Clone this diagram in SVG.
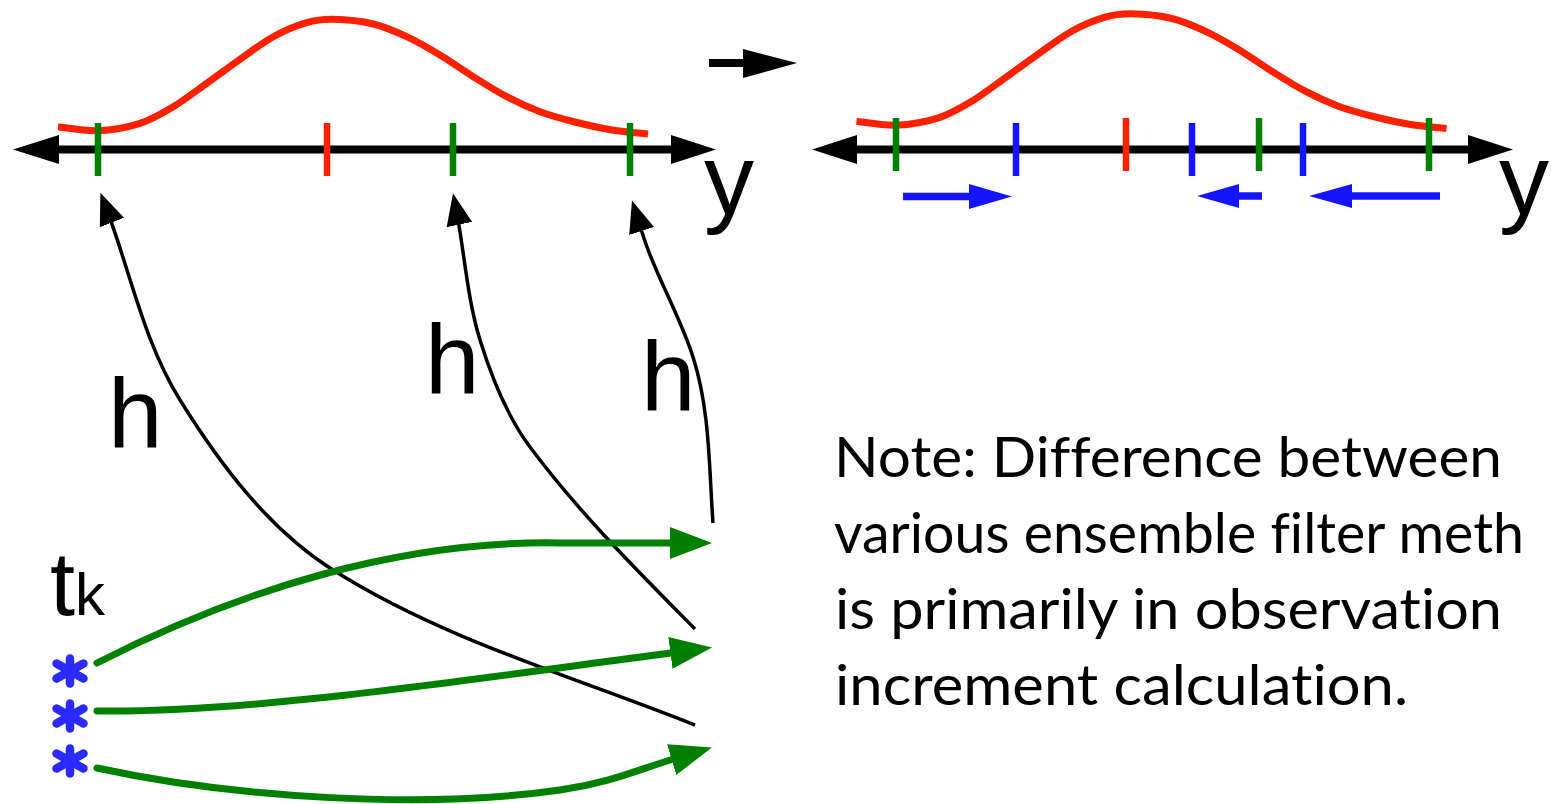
<svg xmlns="http://www.w3.org/2000/svg" width="1551" height="804" viewBox="0 0 1551 804">
<style>
.axis{stroke:#000;stroke-width:8;fill:none}
.head{fill:#000}
.tg{stroke:#008000;stroke-width:6.5}
.tr{stroke:#ff2000;stroke-width:6.5}
.tb{stroke:#1414ff;stroke-width:6.5}
.curve{fill:none;stroke:#ff2000;stroke-width:7}
.bl{stroke:#1414ff;stroke-width:7.5;fill:none}
.bh{fill:#1414ff}
.hc{fill:none;stroke:#000;stroke-width:3.5}
.gc{fill:none;stroke:#008000;stroke-width:7;stroke-linecap:round}
.lbl{font-family:"Liberation Sans",Arial,sans-serif;fill:#000}
.note{font-family:Lato,"Open Sans",sans-serif;font-size:57px;fill:#000;font-variant-ligatures:none}
.ast{stroke:#2a2aff;stroke-width:8.5;stroke-linecap:round;fill:none}
</style>
<defs>
<marker id="bhead" markerUnits="userSpaceOnUse" viewBox="0 -14 34 28" markerWidth="34" markerHeight="28" refX="22" refY="0" orient="auto"><path d="M0,-13 L32,0 L0,13 z" fill="#000"/></marker>
<marker id="ghead" markerUnits="userSpaceOnUse" viewBox="0 -17 44 34" markerWidth="44" markerHeight="34" refX="2" refY="0" orient="auto"><path d="M0,-16 L42,0 L0,16 z" fill="#008000"/></marker>
<path id="gauss" class="curve" d="M58,126.7 C64.67,127.37 84.33,131.27 98,130.7 C111.67,130.13 127.45,127.3 140,123.3 C152.55,119.3 162.18,113.37 173.3,106.7 C184.42,100.03 195.58,91.2 206.7,83.3 C217.82,75.4 228.9,67.07 240,59.3 C251.1,51.53 262.18,42.8 273.3,36.7 C284.42,30.6 296.7,25.6 306.7,22.7 C316.7,19.8 322.2,19.08 333.3,19.3 C344.4,19.52 361.07,21.1 373.3,24 C385.53,26.9 395.58,31.53 406.7,36.7 C417.82,41.87 428.9,48.33 440,55 C451.1,61.67 462.18,69.75 473.3,76.7 C484.42,83.65 495.58,90.87 506.7,96.7 C517.82,102.53 528.62,107.48 540,111.7 C551.38,115.92 563,118.95 575,122 C587,125.05 599.83,128 612,130 C624.17,132 642,133.33 648,134"/>
<g id="star"><line x1="0" y1="-12.5" x2="0" y2="12.5"/><line x1="-13.5" y1="-7.5" x2="13.5" y2="7.5"/><line x1="-13.5" y1="7.5" x2="13.5" y2="-7.5"/></g>
</defs>

<g id="panel-left">
<use href="#gauss"/>
<line class="axis" x1="55" y1="149.5" x2="675" y2="149.5"/>
<polygon class="head" points="13,149.5 59,135 59,164"/>
<polygon class="head" points="716,149.5 671,135 671,164"/>
<line class="tg" x1="98" y1="123" x2="98" y2="176"/>
<line class="tr" x1="327" y1="123" x2="327" y2="176"/>
<line class="tg" x1="453" y1="123" x2="453" y2="176"/>
<line class="tg" x1="630" y1="123" x2="630" y2="176"/>
<text class="lbl" x="704" y="214" font-size="100">y</text>
</g>

<g id="transition-arrow">
<line class="axis" x1="709" y1="63" x2="750" y2="63"/>
<polygon class="head" points="797,63 743,49 743,78"/>
</g>

<g id="panel-right">
<use href="#gauss" transform="translate(798.5,-5.5)"/>
<line class="axis" x1="852" y1="149.5" x2="1472" y2="149.5"/>
<polygon class="head" points="812,149.5 857,135 857,164"/>
<polygon class="head" points="1513,149.5 1468,135 1468,164"/>
<line class="tg" x1="896" y1="118" x2="896" y2="171"/>
<line class="tb" x1="1016" y1="123" x2="1016" y2="176"/>
<line class="tr" x1="1126" y1="118" x2="1126" y2="171"/>
<line class="tb" x1="1192" y1="123" x2="1192" y2="176"/>
<line class="tg" x1="1259" y1="118" x2="1259" y2="171"/>
<line class="tb" x1="1303" y1="123" x2="1303" y2="176"/>
<line class="tg" x1="1429" y1="118" x2="1429" y2="171"/>
<line class="bl" x1="903" y1="196.5" x2="972" y2="196.5"/>
<polygon class="bh" points="1012,196.5 969,184 969,209"/>
<line class="bl" x1="1262" y1="196" x2="1236" y2="196"/>
<polygon class="bh" points="1197,196 1239,184 1239,208"/>
<line class="bl" x1="1440" y1="196" x2="1349" y2="196"/>
<polygon class="bh" points="1309,196 1352,184 1352,208"/>
<text class="lbl" x="1499" y="214" font-size="100">y</text>
</g>

<g id="ensemble">
<text class="lbl" x="50" y="615" font-size="90">t<tspan font-size="60">k</tspan></text>
<use href="#star" class="ast" x="70" y="671"/>
<use href="#star" class="ast" x="70" y="716"/>
<use href="#star" class="ast" x="70" y="761"/>
</g>

<g id="connectors">
<path class="hc" marker-end="url(#bhead)" d="M695,725 C573.4,676.4 443.8,640 333,570 C268.7,529.4 220.1,464.5 180,400 C142.5,339.7 129.6,268 104,202"/>
<path class="hc" marker-end="url(#bhead)" d="M695,629 C637.4,570.7 579,512.8 530,447 C506.7,415.7 491.5,377.3 480,340 C466.5,296 464.2,248 455,203"/>
<path class="hc" marker-end="url(#bhead)" d="M713,523 C708.9,467.2 710.1,410.3 693,357 C680.8,318.9 660.8,284.5 647,247 C642.5,234.8 638.9,222.4 635,210"/>
<path class="gc" marker-end="url(#ghead)" d="M97,663 C240,590 400,540 560,543 L672,543"/>
<path class="gc" marker-end="url(#ghead)" d="M97,711 C250,713 450,682 672.4,652.7"/>
<path class="gc" marker-end="url(#ghead)" d="M97,768 C230,797 420,810 560,790 C610,783 640,769 673.6,759"/>
</g>

<g id="h-labels">
<text class="lbl" x="108" y="447" font-size="98">h</text>
<text class="lbl" x="425" y="393" font-size="98">h</text>
<text class="lbl" x="641" y="410" font-size="98">h</text>
</g>

<g id="note">
<text class="note" x="834" y="477" textLength="668" lengthAdjust="spacingAndGlyphs">Note: Difference between</text>
<text class="note" x="834" y="553" textLength="690" lengthAdjust="spacingAndGlyphs">various ensemble filter meth</text>
<text class="note" x="835" y="629" textLength="667" lengthAdjust="spacingAndGlyphs">is primarily in observation</text>
<text class="note" x="835" y="705" textLength="573" lengthAdjust="spacingAndGlyphs">increment calculation.</text>
</g>
</svg>
